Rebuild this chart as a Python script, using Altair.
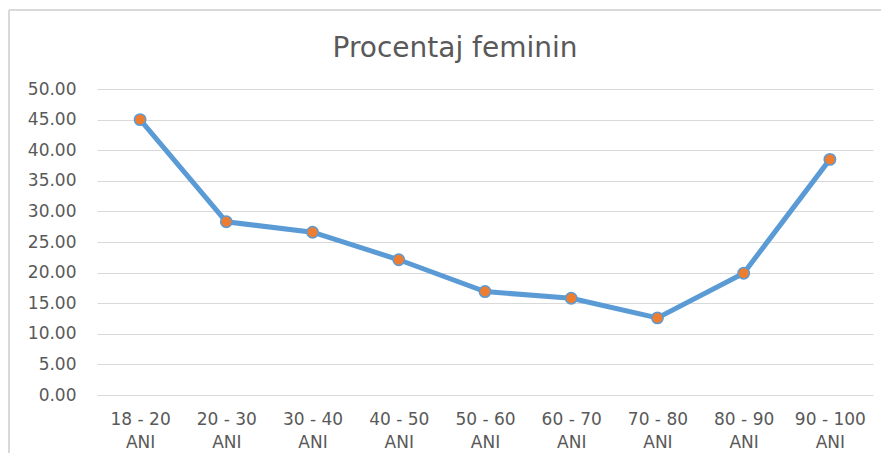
import altair as alt
import pandas as pd

categories = ["18 - 20 ANI", "20 - 30 ANI", "30 - 40 ANI", "40 - 50 ANI", "50 - 60 ANI",
              "60 - 70 ANI", "70 - 80 ANI", "80 - 90 ANI", "90 - 100 ANI"]
values = [45.0, 28.3, 26.6, 22.1, 16.9, 15.8, 12.6, 19.9, 38.5]

df = pd.DataFrame({"cat": categories, "val": values})

FONT = "DejaVu Sans"
GRAY = "#595959"

x = alt.X("cat:N", sort=categories, title=None,
          scale=alt.Scale(paddingInner=0, paddingOuter=0.5),
          axis=alt.Axis(labelAngle=0, ticks=False, domain=False, grid=False,
                        labelFontSize=17, labelColor=GRAY, labelFont=FONT,
                        labelPadding=16, labelLineHeight=23,
                        labelExpr="[replace(datum.label, ' ANI', ''), 'ANI']"))
y = alt.Y("val:Q", title=None,
          scale=alt.Scale(domain=[0, 50], nice=False),
          axis=alt.Axis(values=[0, 5, 10, 15, 20, 25, 30, 35, 40, 45, 50], format=".2f",
                        ticks=False, domain=False, grid=True, gridColor="#D9D9D9",
                        gridWidth=1, labelFontSize=17, labelColor=GRAY, labelFont=FONT,
                        labelPadding=21))

line = alt.Chart(df).mark_line(color="#5B9BD5", strokeWidth=5).encode(x=x, y=y)
pts = alt.Chart(df).mark_point(filled=True, fill="#ED7D31", stroke="#5B9BD5",
                               strokeWidth=1.5, size=130, opacity=1, shape="circle").encode(x=x, y=y)

border_left = alt.Chart(df).mark_rule(color="#D9D9D9", strokeWidth=1.5).encode(
    x=alt.value(-88), y=alt.value(-79), y2=alt.value(380))
border_top = alt.Chart(df).mark_rule(color="#D9D9D9", strokeWidth=1.5).encode(
    x=alt.value(-88), x2=alt.value(800), y=alt.value(-79))

chart = alt.layer(border_left, border_top, line, pts).properties(
    width=776, height=306,
    padding={"left": 89, "top": 81, "right": 8, "bottom": 58},
    autosize=alt.AutoSizeParams(type="none"),
    title=alt.TitleParams("Procentaj feminin", fontSize=28, fontWeight="normal",
                          color=GRAY, font=FONT, offset=-54, dx=-30, anchor="middle"),
).configure_view(stroke=None)

chart.save("out.html", embed_options={"renderer": "svg", "actions": False})
